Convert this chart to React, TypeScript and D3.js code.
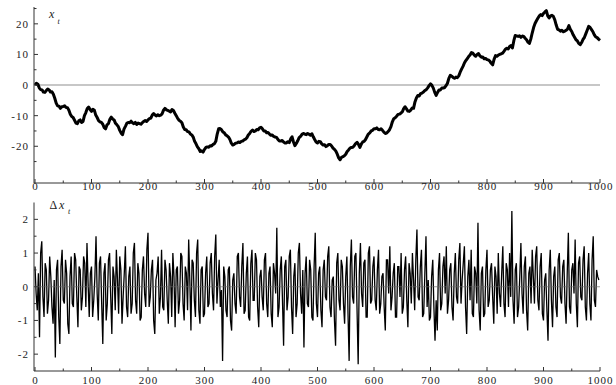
import { useEffect } from 'react';
import * as d3 from 'd3';

// random walk x_t, read every 2.5 steps (t = 0, 2.5, ..., 1000)
const walkStep = 2.5;
const walk = [
  0, 0.6, 0.3, -0.9, -1.5, -1.6, -2.3, -2.4, -1.8, -1.3, -1.6, -2.3, -2.2, -3.0, -4.3, -5.9, -6.8, -6.9, -7.6, -7.1,
  -7.0, -6.8, -7.3, -7.4, -8.2, -9.5, -10.3, -10.6, -11.5, -12.4, -12.6, -11.7, -11.4, -12.2, -11.9, -10.0, -9.0, -7.7, -7.2, -8.0,
  -8.6, -7.9, -8.2, -9.8, -10.6, -11.6, -12.0, -12.2, -12.8, -13.9, -14.3, -13.0, -12.6, -11.2, -10.5, -11.1, -11.4, -12.5, -13.0, -13.6,
  -14.8, -15.7, -16.2, -14.4, -13.5, -12.5, -12.2, -12.3, -11.8, -12.3, -12.6, -12.2, -12.9, -12.4, -12.6, -12.8, -12.3, -11.9, -11.6, -11.9,
  -11.4, -11.0, -10.8, -9.8, -9.3, -9.8, -10.1, -9.7, -10.0, -9.8, -9.4, -8.2, -7.6, -8.1, -8.3, -8.5, -8.8, -8.0, -8.3, -9.2,
  -10.0, -10.9, -11.5, -11.8, -12.3, -13.7, -14.5, -14.6, -15.2, -15.3, -16.0, -16.3, -17.0, -18.4, -19.2, -20.2, -20.8, -21.7, -21.5, -21.9,
  -21.0, -20.4, -20.2, -20.3, -19.8, -19.9, -19.4, -19.2, -18.4, -16.0, -14.3, -14.2, -14.6, -15.3, -15.6, -16.3, -16.6, -17.0, -17.8, -19.0,
  -19.6, -19.4, -19.0, -18.9, -18.6, -18.8, -18.4, -18.3, -17.9, -17.7, -17.2, -16.3, -15.8, -15.1, -14.7, -15.2, -15.0, -14.5, -14.6, -14.0,
  -13.8, -14.3, -15.0, -15.0, -15.6, -15.5, -16.0, -16.4, -16.3, -16.8, -17.0, -17.1, -17.8, -18.3, -18.3, -18.1, -18.6, -18.9, -18.9, -18.5,
  -18.8, -17.6, -16.9, -18.6, -19.8, -19.1, -18.2, -17.2, -16.8, -16.1, -15.8, -16.0, -16.2, -15.8, -16.1, -16.4, -15.9, -16.9, -17.8, -18.6,
  -18.9, -18.4, -18.5, -19.2, -19.6, -19.5, -20.1, -19.8, -19.4, -19.4, -19.9, -20.6, -21.0, -21.6, -22.6, -23.8, -24.4, -23.6, -23.4, -23.1,
  -22.6, -21.7, -21.2, -20.6, -20.4, -20.3, -19.8, -19.1, -18.7, -19.4, -20.4, -19.3, -18.6, -18.4, -17.8, -16.9, -16.0, -15.6, -15.0, -14.8,
  -14.3, -14.3, -14.0, -14.5, -14.6, -14.3, -14.8, -15.4, -15.8, -15.7, -15.2, -14.6, -13.6, -12.0, -11.0, -10.7, -10.2, -9.6, -9.5, -9.2,
  -8.8, -7.7, -7.1, -7.8, -8.5, -8.6, -8.2, -7.5, -7.6, -5.5, -4.2, -3.4, -3.6, -2.8, -2.6, -2.3, -1.8, -1.5, -0.9, -0.2,
  0.4, -0.1, -1.0, -2.4, -3.4, -2.4, -1.6, -1.6, -1.0, -1.0, -0.8, -0.2, 0.6, 2.2, 3.2, 2.9, 2.5, 2.2, 2.6, 2.4,
  3.0, 4.2, 5.2, 6.1, 7.2, 8.0, 8.6, 9.3, 9.8, 10.6, 10.4, 9.8, 9.4, 10.0, 10.3, 9.5, 9.1, 9.2, 8.6, 8.7,
  8.3, 8.2, 7.8, 7.1, 6.6, 8.4, 9.6, 9.4, 9.8, 10.0, 10.2, 10.4, 11.0, 11.7, 12.0, 11.8, 12.6, 12.9, 12.1, 14.5,
  16.2, 16.0, 15.9, 16.1, 15.6, 16.0, 15.9, 15.3, 14.8, 14.0, 13.6, 15.0, 17.0, 18.8, 20.1, 21.0, 21.8, 22.6, 23.0, 22.7,
  23.4, 23.9, 24.3, 22.6, 21.9, 22.6, 22.8, 22.4, 21.3, 19.6, 18.2, 18.0, 17.6, 17.9, 17.4, 17.6, 17.9, 18.3, 19.4, 18.2,
  17.5, 16.4, 15.6, 14.8, 14.4, 13.6, 13.2, 13.9, 14.9, 15.6, 16.8, 18.0, 19.2, 18.8, 18.1, 17.4, 16.4, 15.7, 15.5, 15.0,
  14.6,
];

// increments Δx_t, read every 2 steps (t = 0, 2, ..., 998)
const incStep = 2;
const increments = [
  0.6, -0.2, -0.7, 0.4, -1.5, 1.0, 1.35, -0.3, -0.9, 0.7, 0.5, -0.8, -0.4, 0.9, 0.3, -0.6, -1.1, 0.2, -2.1, 0.5, 0.8, -0.9, -1.7, 0.6, 1.1,
  -0.4, -0.5, 0.8, 0.4, -1.1, -1.4, 0.3, 0.9, -0.5, -0.6, 1.0, 0.8, -0.3, -1.2, 0.6, 0.5, -0.7, -0.3, 0.9, 0.7, -0.6, 1.3, 0.1, -0.9, 0.4,
  0.6, -0.9, -0.4, 0.3, 1.5, -0.2, -1.0, 0.7, 0.9, -0.5, -1.7, 0.4, 0.7, -1.0, -0.5, 0.8, 1.0, -0.3, -1.4, 0.6, 0.3, -0.7, 1.1, 0.2, -0.8,
  0.9, 0.5, -1.1, -0.3, 0.4, 1.2, -0.6, -0.9, 0.3, 0.6, -0.8, -0.5, 1.0, 1.3, -0.4, -0.8, 0.7, 0.4, -1.0, -0.9, 0.5, 0.9, -0.2, -0.6, 1.1,
  1.6, -0.6, -0.3, 0.5, 0.8, -1.0, -1.4, 0.2, 0.4, 0.9, -0.8, -0.3, 1.1, -0.6, -0.7, 0.8, 0.5, -0.4, -1.1, 0.7, 0.3, -0.9, 1.0, 0.3, -1.2,
  0.5, 0.6, -0.8, -0.4, 1.0, 0.9, -0.5, -1.0, 0.6, 0.4, -0.7, 1.4, 0.2, -1.3, 0.8, 0.7, -0.4, -0.9, 1.0, 1.4, -0.7, -1.1, 0.5, 0.6, -0.9,
  -0.8, 0.4, 0.9, -0.6, -0.5, 0.7, 1.0, -0.2, -0.7, 0.9, 1.55, -0.5, 0.2, 0.8, -0.6, -0.1, -2.2, 0.6, 0.3, -0.7, -0.9, 0.5, 0.6, -1.0, -1.3,
  0.2, 0.4, -0.5, -0.8, 0.9, 1.0, -0.3, -0.6, 0.6, 1.3, -0.8, -0.7, 0.4, 0.9, -0.9, -1.0, 0.7, 1.1, -0.4, -0.4, 1.0, 0.8, -0.6, -1.2, 0.3,
  0.5, -0.3, -0.7, 0.8, 1.0, -0.5, -0.9, 0.4, 0.6, -0.8, -1.2, 0.7, 0.4, -0.2, 1.75, -0.9, -0.6, 0.5, 0.9, -0.4, -1.75, 0.6, 0.8, -0.7, -0.3,
  0.9, 1.1, -0.6, -1.4, 0.3, 0.7, -0.9, -0.5, 1.0, 1.3, -0.2, -0.8, 0.5, -1.8, 0.4, 0.9, -0.5, -0.6, 0.8, 0.5, -0.9, -1.0, 0.6, 1.6, -0.5,
  -0.9, 0.4, 0.6, -0.7, -1.2, 0.5, 0.8, -0.3, -0.4, 0.9, 1.2, -0.6, -0.9, 0.2, 0.3, -1.0, -1.75, 0.7, 1.0, -0.4, -0.7, 0.8, 0.6, -0.5, -1.1,
  0.3, 0.9, -0.8, -2.2, 0.6, 1.4, -0.3, -0.5, 0.9, 1.0, -0.7, -2.3, 0.4, 1.3, -0.2, -0.6, 0.7, 0.8, -0.9, -0.9, 1.0, 1.2, -0.5, -0.4, 0.6,
  0.9, -0.4, -0.7, 0.5, 1.1, -0.8, -0.5, 0.3, 0.4, -0.6, -1.3, 0.8, 0.8, -0.2, 1.2, -0.7, -0.3, 0.4, 0.7, -0.9, -0.9, 0.6, 0.6, -0.3, 1.0,
  -0.8, -0.6, 0.5, 0.9, -0.4, -1.2, 0.7, 0.4, -0.5, 1.0, 0.2, -0.7, 0.8, 1.7, -0.3, -0.4, 0.6, 1.1, -0.9, -0.8, 0.4, 1.5, -0.6, 0.2, -1.0,
  -0.9, 0.3, 0.8, -0.6, -1.6, -0.4, -1.3, 0.5, 1.0, -0.7, -0.5, 0.6, 0.9, -0.2, 1.2, -0.8, -0.4, 0.5, 0.7, -0.6, -1.0, 0.4, 1.0, -0.3, -0.5,
  0.8, 1.3, -0.5, 0.2, 0.7, 1.2, -0.6, -1.4, 0.3, 0.8, -0.4, 1.1, -0.8, -0.9, 0.6, 0.4, -0.5, 1.9, -0.7, -1.3, 0.4, 0.6, -0.9, -0.8, 0.5,
  1.1, -0.6, -0.4, 0.5, 0.7, -0.3, -1.1, 0.6, 0.3, -0.8, 1.0, -0.2, -0.6, 0.4, 1.2, -0.5, -0.9, 0.7, 0.5, -0.6, 1.0, -0.3, 2.25, -0.4, -1.1,
  0.5, 0.7, -0.9, -0.6, 0.3, 1.3, -0.2, -0.8, 0.6, 0.9, -0.7, -1.3, 0.4, 0.6, -0.5, 1.1, 0.3, -0.5, 0.9, 1.2, -0.4, -0.7, 0.6, 1.0, -0.8,
  -1.0, 0.2, 0.4, -0.7, -1.6, 0.5, 1.1, -0.4, -1.2, 0.3, 0.6, -0.6, -0.9, 0.8, 1.0, -0.3, -0.5, 0.6, 0.8, -0.5, -1.1, 0.4, 1.6, -0.6, -0.8,
  0.5, 0.7, -0.2, 1.4, -0.5, -1.2, 0.7, 0.9, -0.3, -0.4, 0.8, 1.2, -0.6, -1.0, 0.4, 1.0, -0.5, -1.0, 0.8, 1.5, -0.4, -0.6, 0.5, 0.3, 0.2,
];

const xTicks = [0, 100, 200, 300, 400, 500, 600, 700, 800, 900, 1000];
const xMinor = [50, 150, 250, 350, 450, 550, 650, 750, 850, 950];
const topTicks = [-20, -10, 0, 10, 20];
const topMinor = [-25, -15, -5, 5, 15, 25];
const botTicks = [-2, -1, 0, 1, 2];
const botMinor = [-1.5, -0.5, 0.5, 1.5];

const W = 616;
const H = 385;
const font = '"Liberation Serif", "DejaVu Serif", serif';
const axisColor = '#333';

export default function App() {
  useEffect(() => {
    document.body.style.margin = '0';
  }, []);

  const x = d3.scaleLinear().domain([0, 1000]).range([35, 600]);
  const yTop = d3.scaleLinear().domain([-32, 25.5]).range([183, 7]);
  const yBot = d3.scaleLinear().domain([-2.5, 2.5]).range([371, 202.5]);
  const axisX = 34;

  const walkLine = d3.line<number>()
    .x((_, i) => x(i * walkStep))
    .y((d) => yTop(d));
  const incLine = d3.line<number>()
    .x((_, i) => x(i * incStep))
    .y((d) => yBot(d));

  const fmt = (v: number) => (v < 0 ? `-${Math.abs(v)}` : `${v}`);

  const panel = (
    y: d3.ScaleLinear<number, number>,
    major: number[],
    minor: number[],
    baseY: number,
    labelY: number,
  ) => {
    const [r0, r1] = y.range();
    return (
      <g>
        <line x1={axisX} x2={axisX} y1={r1} y2={r0} stroke={axisColor} strokeWidth={1} />
        <line x1={axisX} x2={x(1000)} y1={baseY} y2={baseY} stroke={axisColor} strokeWidth={1} />
        {major.map((v) => (
          <g key={`ym${v}`}>
            <line x1={axisX} x2={axisX + 4} y1={y(v)} y2={y(v)} stroke={axisColor} />
            <text x={29} y={y(v) + 4} textAnchor="end" fontSize={11} fill="#222" letterSpacing={1}>
              {fmt(v)}
            </text>
          </g>
        ))}
        {minor.map((v) => (
          <line key={`yn${v}`} x1={axisX} x2={axisX + 2.5} y1={y(v)} y2={y(v)} stroke={axisColor} />
        ))}
        {xTicks.map((t) => (
          <g key={`xm${t}`}>
            <line x1={x(t)} x2={x(t)} y1={baseY} y2={baseY - 4} stroke={axisColor} />
            <text x={x(t) + 0.5} y={labelY} textAnchor="middle" fontSize={11} fill="#222" letterSpacing={1}>
              {t}
            </text>
          </g>
        ))}
        {xMinor.map((t) => (
          <line key={`xn${t}`} x1={x(t)} x2={x(t)} y1={baseY} y2={baseY - 2.5} stroke={axisColor} />
        ))}
      </g>
    );
  };

  return (
    <div style={{ position: 'absolute', left: 0, top: 0, width: W, height: H, background: '#fff' }}>
      <svg width={W} height={H} style={{ display: 'block', fontFamily: font }}>
        {/* top: random walk */}
        <line x1={x(0)} x2={x(1000)} y1={yTop(0)} y2={yTop(0)} stroke="#b4b4b4" strokeWidth={1.6} />
        <path d={walkLine(walk) ?? ''} fill="none" stroke="#000" strokeWidth={3} strokeLinejoin="round" />
        {panel(yTop, topTicks, topMinor, 183, 190)}
        <text x={49} y={18} fontSize={12} fontStyle="italic" fill="#222">x</text>
        <text x={57.5} y={24} fontSize={8} fontStyle="italic" fill="#222">t</text>

        {/* bottom: increments */}
        <path d={incLine(increments) ?? ''} fill="none" stroke="#000" strokeWidth={1.3} strokeLinejoin="miter" />
        <line x1={x(0)} x2={x(1000)} y1={yBot(0)} y2={yBot(0)} stroke="#666" strokeWidth={0.8} opacity={0.8} />
        {panel(yBot, botTicks, botMinor, 371, 384)}
        <text x={49.5} y={208.5} fontSize={12} fill="#222">Δ</text>
        <text x={59} y={208.5} fontSize={12} fontStyle="italic" fill="#222">x</text>
        <text x={68} y={213.5} fontSize={8} fontStyle="italic" fill="#222">t</text>
      </svg>
    </div>
  );
}
